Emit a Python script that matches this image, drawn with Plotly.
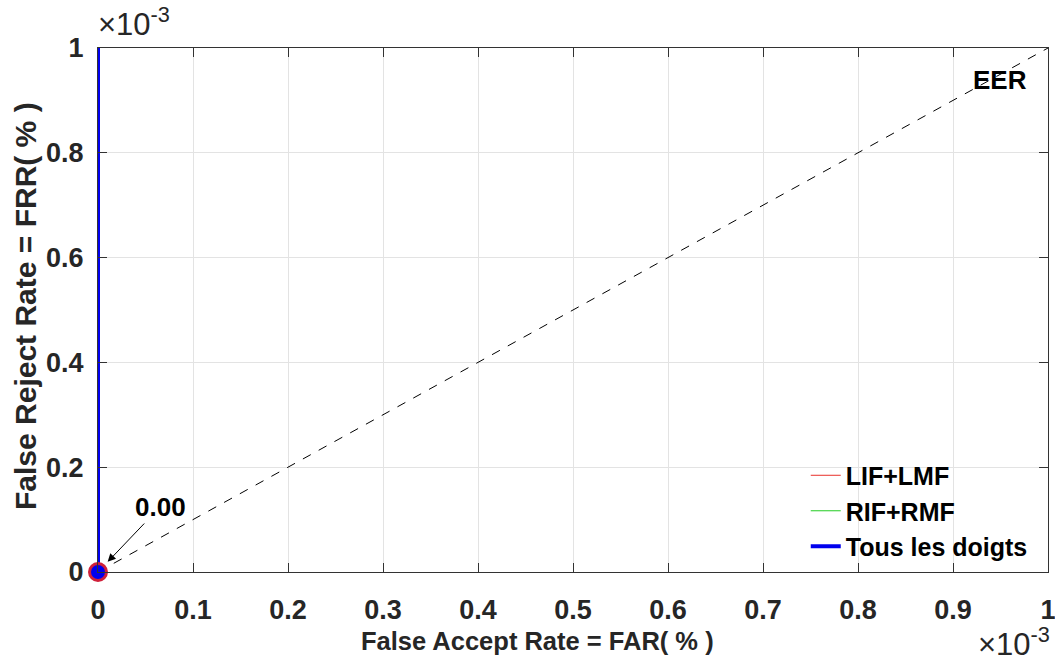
import plotly.graph_objects as go

# Data (in units of 1e-3)
far_lif = [0, 0]
frr_lif = [0, 0]
far_rif = [0, 0]
frr_rif = [0, 0]
far_all = [0, 0]
frr_all = [0, 1]
eer_line_x = [0, 1]
eer_line_y = [0, 1]
eer_point = (0, 0)
ticks = [0, 0.1, 0.2, 0.3, 0.4, 0.5, 0.6, 0.7, 0.8, 0.9, 1]
tick_text = ["0", "0.1", "0.2", "0.3", "0.4", "0.5", "0.6", "0.7", "0.8", "0.9", "1"]
yticks = [0, 0.2, 0.4, 0.6, 0.8, 1]
ytick_text = ["0", "0.2", "0.4", "0.6", "0.8", "1"]

FONT = "Liberation Sans, Arial, sans-serif"
TXT = "#262626"

fig = go.Figure()
fig.add_trace(go.Scatter(x=eer_line_x, y=eer_line_y, mode="lines",
                         line=dict(color="black", width=1, dash="dash"),
                         showlegend=False, hoverinfo="skip"))
fig.add_trace(go.Scatter(x=far_lif, y=frr_lif, mode="lines", name="<b>LIF+LMF</b>",
                         line=dict(color="#e8302a", width=1)))
fig.add_trace(go.Scatter(x=far_rif, y=frr_rif, mode="lines", name="<b>RIF+RMF</b>",
                         line=dict(color="#22cc22", width=1)))
fig.add_trace(go.Scatter(x=far_all, y=frr_all, mode="lines", name="<b>Tous les doigts</b>",
                         line=dict(color="#0000ee", width=4), cliponaxis=False))
fig.add_trace(go.Scatter(x=[eer_point[0]], y=[eer_point[1]], mode="markers",
                         marker=dict(color="#0000ee", size=17,
                                     line=dict(color="#d0203a", width=3)),
                         showlegend=False, cliponaxis=False))

# EER value label with arrow to EER point
fig.add_annotation(x=eer_point[0], y=eer_point[1], xref="x", yref="y",
                   text="<b>0.00</b>", showarrow=True, arrowhead=2, arrowsize=1.6,
                   arrowwidth=1, arrowcolor="black", ax=62, ay=-65, standoff=14,
                   font=dict(size=26, color="black", family=FONT))
fig.add_annotation(x=0.949, y=0.939, xref="x", yref="y", text="<b>EER</b>",
                   showarrow=False, font=dict(size=26, color="black", family=FONT))
fig.add_annotation(x=0, y=1, xref="paper", yref="paper", text="×10<sup>-3</sup>",
                   showarrow=False, xanchor="left", yanchor="bottom", xshift=-2, yshift=4,
                   font=dict(size=31, color=TXT, family=FONT))
fig.add_annotation(x=1, y=0, xref="paper", yref="paper", text="×10<sup>-3</sup>",
                   showarrow=False, xanchor="right", yanchor="top", yshift=-48, xshift=4,
                   font=dict(size=31, color=TXT, family=FONT))
fig.add_annotation(x=(537 - 98) / 950, y=-(641 - 572) / 524, xref="paper", yref="paper",
                   text="<b>False Accept Rate = FAR( % )</b>", showarrow=False,
                   xanchor="center", yanchor="middle",
                   font=dict(size=25.5, color=TXT, family=FONT))
fig.add_annotation(x=-(98 - 25) / 950, y=(572 - 306) / 524, xref="paper", yref="paper",
                   text="<b>False Reject Rate = FRR( % )</b>", showarrow=False,
                   xanchor="center", yanchor="middle", textangle=-90,
                   font=dict(size=30, color=TXT, family=FONT))

axis_common = dict(showgrid=True, gridcolor="#e3e3e3", gridwidth=1,
                   showline=True, linecolor="#333", linewidth=1, mirror="ticks",
                   ticks="inside", ticklen=9, tickcolor="#333", zeroline=False,
                   ticklabeloverflow="allow", automargin=False,
                   tickfont=dict(size=27, color=TXT, family=FONT))

fig.update_xaxes(range=[0, 1], tickvals=ticks, ticktext=[f"<b>{t}</b>" for t in tick_text],
                 ticklabelstandoff=14, **axis_common)
fig.update_yaxes(range=[0, 1], tickvals=yticks, ticktext=[f"<b>{t}</b>" for t in ytick_text],
                 ticklabelstandoff=8, **axis_common)

fig.update_layout(width=1055, height=664, margin=dict(l=98, r=7, t=48, b=92),
                  plot_bgcolor="white", paper_bgcolor="white",
                  legend=dict(x=0.745, y=0.228, xanchor="left", yanchor="top",
                              bgcolor="rgba(255,255,255,0)", borderwidth=0,
                              font=dict(size=25, color="black", family=FONT),
                              tracegroupgap=0))

fig.write_html("out.html")
